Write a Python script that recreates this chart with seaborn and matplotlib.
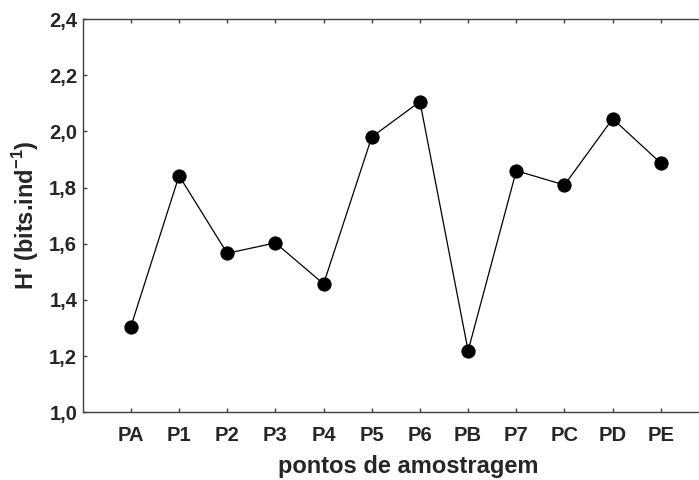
import matplotlib
matplotlib.use("Agg")
import matplotlib.pyplot as plt
import seaborn as sns
import pandas as pd
from matplotlib.ticker import FuncFormatter

categories = ["PA", "P1", "P2", "P3", "P4", "P5", "P6", "PB", "P7", "PC", "PD", "PE"]
values = [1.305, 1.842, 1.566, 1.603, 1.457, 1.980, 2.106, 1.219, 1.860, 1.809, 2.045, 1.887]
y_ticks = [1.0, 1.2, 1.4, 1.6, 1.8, 2.0, 2.2, 2.4]

sns.set_style("ticks")
plt.rcParams["font.family"] = ["Liberation Sans", "DejaVu Sans"]
plt.rcParams["font.weight"] = "bold"
plt.rcParams["mathtext.fontset"] = "custom"
plt.rcParams["mathtext.bf"] = "Liberation Sans:bold"
plt.rcParams["mathtext.rm"] = "Liberation Sans:bold"
plt.rcParams["axes.unicode_minus"] = False

df = pd.DataFrame({"ponto": categories, "H": values})

fig = plt.figure(figsize=(6.99, 4.80), dpi=100)
ax = fig.add_axes([82.7 / 699, 67.7 / 480, (709 - 82.7) / 699, (412.3 - 19) / 480])

sns.lineplot(data=df, x="ponto", y="H", ax=ax, color="black", linewidth=0.9,
             marker="o", markersize=9.5, markeredgecolor="black", markerfacecolor="black",
             sort=False)

ax.set_xlim(-1, 12)
ax.set_ylim(1.0, 2.4)
ax.set_yticks(y_ticks)
ax.yaxis.set_major_formatter(FuncFormatter(lambda v, p: f"{v:.1f}".replace(".", ",")))
ax.set_xticks(range(len(categories)))
ax.set_xticklabels(categories)

for s in ax.spines.values():
    s.set_visible(True)
    s.set_linewidth(1.0)
    s.set_color("#404040")

ax.tick_params(axis="both", direction="in", length=3, width=1.0, color="#404040",
               top=True, right=True, labelsize=14.5)
ax.tick_params(axis="x", pad=10)
ax.tick_params(axis="y", pad=4)
for lbl in ax.get_xticklabels() + ax.get_yticklabels():
    lbl.set_fontweight("bold")

ax.set_xlabel("pontos de amostragem", fontsize=17, fontweight="bold", labelpad=8)
ax.set_ylabel("H' (bits.ind$^{\\mathbf{-1}}$)", fontsize=17, fontweight="bold", labelpad=6)
ax.xaxis.set_label_coords(408 / 699, 466 / 480 * 0 + (480 - 466) / 480, transform=fig.transFigure)
ax.xaxis.label.set_va("center")

fig.savefig("out.png", dpi=100)
